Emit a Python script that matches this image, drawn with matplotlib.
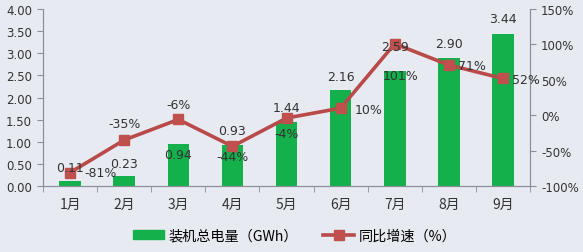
import matplotlib
matplotlib.use("Agg")
import matplotlib.pyplot as plt
from matplotlib.patches import Patch
from matplotlib.lines import Line2D
import numpy as np

plt.rcParams['font.family'] = ['DejaVu Sans', 'Noto Sans CJK SC']

# ── data ──────────────────────────────────────────────────────────────────────
months = ["1月", "2月", "3月", "4月", "5月", "6月", "7月", "8月", "9月"]
capacity = [0.11, 0.23, 0.94, 0.93, 1.44, 2.16, 2.59, 2.90, 3.44]   # GWh
growth = [-81, -35, -6, -44, -4, 10, 101, 71, 52]                    # %

# label offsets in points (layout only)
cap_off = [(0, 10), (0, 9), (0, -7), (0, 10), (0, 11), (0, 10), (0, 18), (0, 10), (0, 11)]
gr_off = [(22, 0), (0, 12), (0, 10.5), (0, -7.5), (0, -11), (20, -1), (4, -23), (17, 0), (16.5, -1)]

BG = "#e7ebf1"
GREEN = "#14b04b"
RED = "#b94a4a"
AXC = "#8a8f96"
TXT = "#333333"

fig = plt.figure(figsize=(5.83, 2.53), dpi=100, facecolor=BG)
ax = fig.add_axes([0.074, 0.261, 0.835, 0.699], facecolor=BG)
ax2 = ax.twinx()

x = np.arange(len(months))
ax.bar(x, capacity, width=0.40, color=GREEN, zorder=2)
ax.set_ylim(0, 4)
ax.set_yticks(np.arange(0, 4.01, 0.5))
ax.set_yticklabels([f"{v:.2f}" for v in np.arange(0, 4.01, 0.5)])
ax.set_xlim(-0.5, len(months) - 0.5)
ax.set_xticks(x)
ax.set_xticklabels(months, family=['Noto Sans CJK SC'])
ax.set_xticks(np.arange(-0.5, len(months)), minor=True)
ax.tick_params(axis="x", which="major", length=0, pad=8, labelsize=10, colors=TXT)
ax.tick_params(axis="x", which="minor", length=4, color=AXC, direction="out")
ax.tick_params(axis="y", length=4, color=AXC, labelsize=8.5, labelcolor=TXT, pad=4)

ax2.plot(x, growth, color=RED, lw=2.6, marker="s", ms=7.5, mfc="#c0504d",
         mec="#c0504d", zorder=3)
ax2.set_ylim(-100, 150)
ax2.set_yticks(np.arange(-100, 151, 50))
ax2.set_yticklabels([f"{v}%" for v in range(-100, 151, 50)])
ax2.tick_params(axis="y", length=4, color=AXC, labelsize=8.5, labelcolor=TXT, pad=4)

for a in (ax, ax2):
    a.spines["top"].set_visible(False)
    for s in ("left", "right", "bottom"):
        a.spines[s].set_color(AXC)
        a.spines[s].set_linewidth(0.8)

# data labels (drawn on ax2 so they sit above bars and line)
for i, v in enumerate(capacity):
    yy = (v - 0) / 4 * 250 - 100
    ax2.annotate(f"{v:.2f}", (i, yy), xytext=cap_off[i], textcoords="offset points",
                 ha="center", va="center", fontsize=9, color=TXT, zorder=5)
for i, g in enumerate(growth):
    ax2.annotate(f"{g}%", (i, g), xytext=gr_off[i], textcoords="offset points",
                 ha="center", va="center", fontsize=9, color=TXT, zorder=5)

handles = [Patch(color=GREEN),
           Line2D([], [], color=RED, lw=2.6, marker="s", ms=6.5, mfc="#c0504d", mec="#c0504d")]
fig.legend(handles, ["装机总电量（GWh）", "同比增速（%）"], loc="center",
           bbox_to_anchor=(0.505, 0.065), ncol=2, frameon=False, handlelength=2.2,
           handleheight=0.6, handletextpad=0.3, columnspacing=1.8,
           prop={"family": ["Noto Sans CJK SC"], "size": 10.2})

fig.savefig("out.png", dpi=100, facecolor=BG)
